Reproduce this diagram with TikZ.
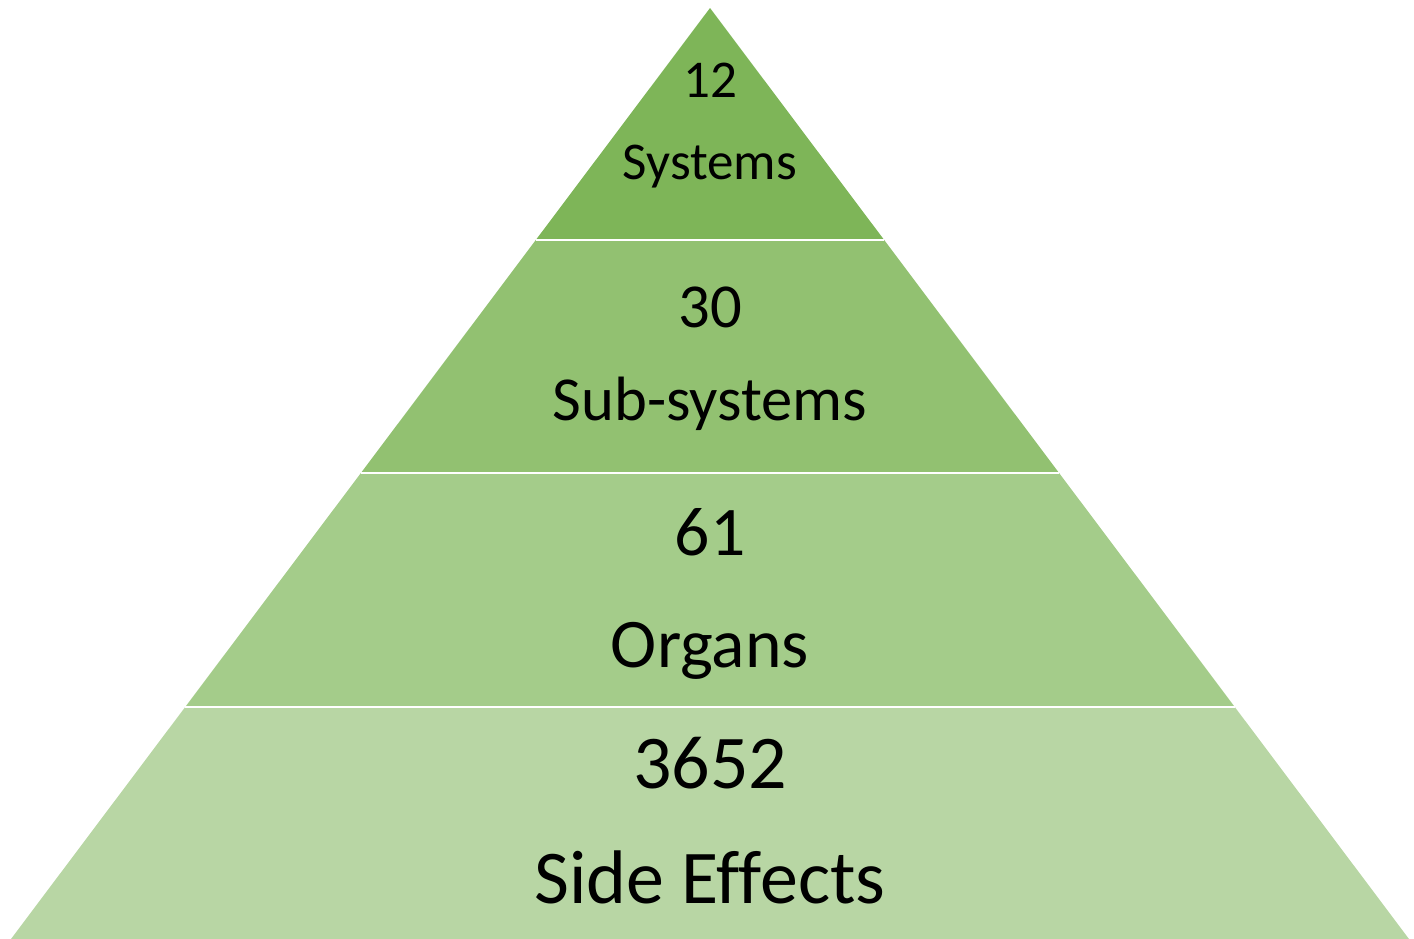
\documentclass[tikz,border=0pt]{standalone}
\usepackage{fontspec}
\setmainfont{Carlito}[Ligatures=NoCommon]
\usepackage{xcolor}
\usepackage{tikz}

\definecolor{tierA}{RGB}{126,181,88}
\definecolor{tierB}{RGB}{146,193,113}
\definecolor{tierC}{RGB}{164,204,138}
\definecolor{tierD}{RGB}{184,214,164}

\begin{document}
\begin{tikzpicture}[
    x=0.01cm,
    y=-0.01cm,
    tier/.style={draw=none},
    divider/.style={draw=white, line width=0.8pt},
    label/.style={anchor=base, inner sep=0pt, text=black}
]
\useasboundingbox (0,0) rectangle (1414,939);

% Outline points
\coordinate (apex) at (710,8);
\coordinate (l1) at (535.8,240);   \coordinate (r1) at (884.2,240);
\coordinate (l2) at (360.9,473);   \coordinate (r2) at (1059.1,473);
\coordinate (l3) at (185.2,707);   \coordinate (r3) at (1234.8,707);
\coordinate (l4) at (11,939);      \coordinate (r4) at (1409,939);

% Tiers
\fill[tier, tierA] (apex) -- (r1) -- (l1) -- cycle;
\fill[tier, tierB] (l1) -- (r1) -- (r2) -- (l2) -- cycle;
\fill[tier, tierC] (l2) -- (r2) -- (r3) -- (l3) -- cycle;
\fill[tier, tierD] (l3) -- (r3) -- (r4) -- (l4) -- cycle;

% Dividers
\draw[divider] (l1) -- (r1);
\draw[divider] (l2) -- (r2);
\draw[divider] (l3) -- (r3);

% Labels
\node[label, font=\fontsize{15.1}{18}\selectfont] (systems_num) at (710,97) {12};
\node[label, font=\fontsize{15.1}{18}\selectfont] (systems) at (710,179) {Systems};
\node[label, font=\fontsize{17.8}{21}\selectfont] (subsystems_num) at (710,327) {30};
\node[label, font=\fontsize{17.8}{21}\selectfont] (subsystems) at (710,420) {Sub-systems};
\node[label, font=\fontsize{19.8}{23}\selectfont] (organs_num) at (710,555) {61};
\node[label, font=\fontsize{19.8}{23}\selectfont] (organs) at (710,667) {Organs};
\node[label, font=\fontsize{21.6}{25}\selectfont] (effects_num) at (710,788) {3652};
\node[label, font=\fontsize{21.6}{25}\selectfont] (effects) at (710,903) {Side Effects};

\end{tikzpicture}
\end{document}
